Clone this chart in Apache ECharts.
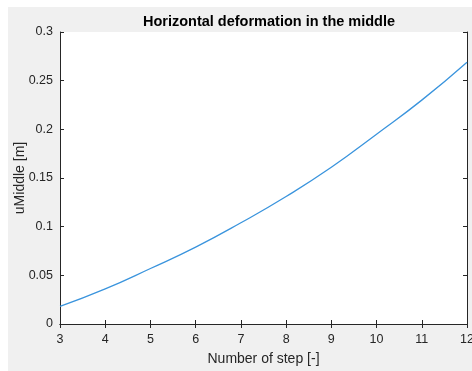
<!DOCTYPE html>
<html><head><meta charset="utf-8">
<script src="https://cdn.jsdelivr.net/npm/echarts@6/dist/echarts.min.js"></script>
<style>html,body{margin:0;padding:0;background:#fff}#c{width:472px;height:371px}</style>
</head><body><div id="c"></div>
<script>
const steps = [3, 4, 5, 6, 7, 8, 9, 10, 11, 12];
const uMiddle = [0.018, 0.036, 0.057, 0.079, 0.104, 0.131, 0.161, 0.195, 0.230, 0.269];
const xTicks = [3, 4, 5, 6, 7, 8, 9, 10, 11, 12];
const yTicks = ['0', '0.05', '0.1', '0.15', '0.2', '0.25', '0.3'];

const chart = echarts.init(document.getElementById('c'), null, {renderer: 'canvas'});
const font = 'Liberation Sans, Arial, sans-serif';
const axisCol = '#262626';
const data = steps.map((s, i) => [s, uMiddle[i]]);
const baseX = {
  type: 'value', min: 3, max: 12, interval: 1,
  axisLine: {show: true, lineStyle: {color: axisCol, width: 1}},
  axisTick: {show: true, inside: true, length: 4, lineStyle: {color: axisCol}},
  splitLine: {show: false}
};
const baseY = {
  type: 'value', min: 0, max: 0.3, interval: 0.05,
  axisLine: {show: true, lineStyle: {color: axisCol, width: 1}},
  axisTick: {show: true, inside: true, length: 4, lineStyle: {color: axisCol}},
  splitLine: {show: false}
};
chart.setOption({
  animation: false,
  backgroundColor: '#ffffff',
  graphic: [{type: 'rect', z: -10, shape: {x: 8, y: 7, width: 464, height: 364}, style: {fill: '#f0f0f0'}}],
  title: {
    text: 'Horizontal deformation in the middle', left: 264, top: 9, textAlign: 'center',
    textStyle: {fontFamily: font, fontSize: 14.5, fontWeight: 'bold', color: '#000'}
  },
  grid: {left: 60, top: 32, right: 5, bottom: 47, backgroundColor: '#ffffff', show: true, borderWidth: 0,
    outerBoundsMode: 'none', containLabel: false},
  xAxis: [
    Object.assign({}, baseX, {
      position: 'bottom',
      name: 'Number of step [-]', nameLocation: 'middle', nameGap: 28,
      nameTextStyle: {fontFamily: font, fontSize: 14, color: axisCol},
      axisLabel: {fontFamily: font, fontSize: 12.5, color: axisCol, margin: 9,
        formatter: v => String(xTicks[xTicks.indexOf(v)])}
    }),
    Object.assign({}, baseX, {position: 'top', axisLabel: {show: false}})
  ],
  yAxis: [
    Object.assign({}, baseY, {
      position: 'left',
      name: 'uMiddle [m]', nameLocation: 'middle', nameGap: 33, nameMoveOverlap: false,
      nameTextStyle: {fontFamily: font, fontSize: 14, color: axisCol},
      axisLabel: {fontFamily: font, fontSize: 12.5, color: axisCol, margin: 7,
        formatter: v => yTicks[Math.round(v / 0.05)]}
    }),
    Object.assign({}, baseY, {position: 'right', axisLabel: {show: false}})
  ],
  series: [{
    type: 'line', data: data, showSymbol: false, smooth: true,
    lineStyle: {color: '#3a94dd', width: 1.3}
  }]
});
</script></body></html>
